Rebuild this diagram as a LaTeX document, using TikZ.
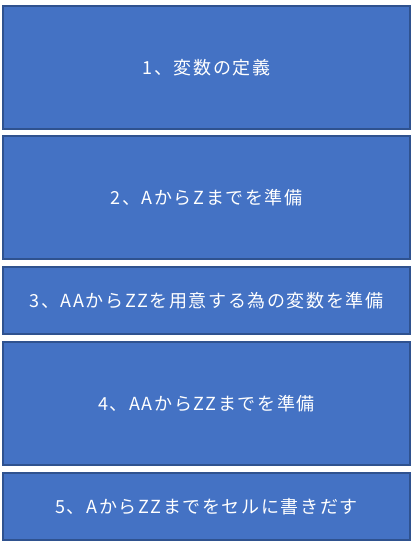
\documentclass[tikz,border=0pt]{standalone}
\usepackage{fontspec}
\setmainfont{Noto Sans CJK JP}[LetterSpace=9]
\definecolor{boxfill}{HTML}{4472C4}
\definecolor{boxline}{HTML}{2F528F}
\begin{document}
\begin{tikzpicture}[x=1pt,y=-1pt,
  stepbox/.style={draw=boxline,line width=2pt,fill=boxfill,text=white,
    font=\fontsize{18}{20}\selectfont,inner sep=0pt}]
\useasboundingbox (0,0) rectangle (411,545);
\node[stepbox,minimum width=407pt,minimum height=123pt] (b1) at (206.5,67.5) {1、変数の定義};
\node[stepbox,minimum width=407pt,minimum height=123pt] (b2) at (206.5,197.5) {2、AからZまでを準備};
\node[stepbox,minimum width=407pt,minimum height=67pt] (b3) at (206.5,300.5) {3、AAからZZを用意する為の変数を準備};
\node[stepbox,minimum width=407pt,minimum height=123pt] (b4) at (206.5,403.5) {4、AAからZZまでを準備};
\node[stepbox,minimum width=407pt,minimum height=67pt] (b5) at (206.5,506.5) {5、AからZZまでをセルに書きだす};
\end{tikzpicture}
\end{document}
